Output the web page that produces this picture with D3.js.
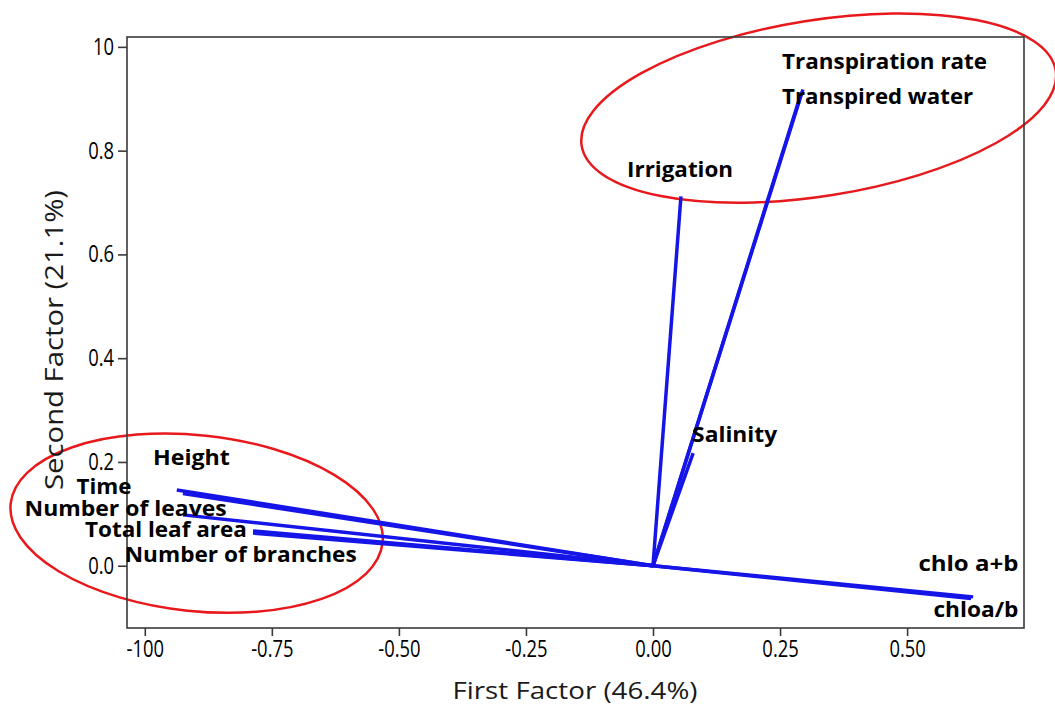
<!DOCTYPE html>
<html><head><meta charset="utf-8">
<script src="https://cdn.jsdelivr.net/npm/d3@7"></script>
<style>body{margin:0;background:#fff}svg{display:block}</style>
</head><body><svg id="c" width="1055" height="704"></svg>
<script>
// ---- data ----
const xTickValues = [-1, -0.75, -0.5, -0.25, 0, 0.25, 0.5];
const xTickLabels = ["-100", "-0.75", "-0.50", "-0.25", "0.00", "0.25", "0.50"];
const yTickValues = [0, 0.2, 0.4, 0.6, 0.8, 1.0];
const yTickLabels = ["0.0", "0.2", "0.4", "0.6", "0.8", "10"];
const variables = ["Transpiration rate", "Transpired water", "Irrigation", "Salinity", "chlo a+b", "chloa/b",
  "Height", "Time", "Number of leaves", "Total leaf area", "Number of branches"];
const firstFactor  = [0.295, 0.292, 0.055, 0.079, 0.630, 0.626, -0.937, -0.925, -0.925, -0.787, -0.787];
const secondFactor = [0.918, 0.912, 0.712, 0.217, -0.060, -0.063, 0.146, 0.139, 0.098, 0.067, 0.063];
const xTitle = "First Factor (46.4%)";
const yTitle = "Second Factor (21.1%)";

// ---- layout (label anchors in data units, widths in px) ----
const labelLayout = [
  {x: 0.254, y: 0.974, anchor: "start", w: 205},
  {x: 0.254, y: 0.907, anchor: "start", w: 191},
  {x: -0.051, y: 0.766, anchor: "start", w: 106},
  {x: 0.077, y: 0.256, anchor: "start", w: 85},
  {x: 0.719, y: 0.007, anchor: "end", w: 100},
  {x: 0.719, y: -0.081, anchor: "end", w: 85},
  {x: -0.984, y: 0.211, anchor: "start", w: 77},
  {x: -1.026, y: 0.156, anchor: "end", w: 55},
  {x: -0.839, y: 0.113, anchor: "end", w: 202},
  {x: -0.799, y: 0.073, anchor: "end", w: 162},
  {x: -0.583, y: 0.024, anchor: "end", w: 232}
];
const ellipses = [
  {cx: 0.326, cy: 0.882, rx: 240, ry: 88, rot: -9},
  {cx: -0.898, cy: 0.082, rx: 187, ry: 88, rot: 6}
];

const svg = d3.select("#c");
const L = 127, R = 1024, T = 37, B = 628;
const x = d3.scaleLinear().domain([-1.035, 0.730]).range([L, R]);
const y = d3.scaleLinear().domain([-0.120, 1.019]).range([B, T]);
const FONT = "'Open Sans', 'Noto Sans', sans-serif";

// ellipses (behind)
svg.append("g").selectAll("ellipse").data(ellipses).join("ellipse")
  .attr("transform", d => `translate(${x(d.cx)},${y(d.cy)}) rotate(${d.rot})`)
  .attr("rx", d => d.rx).attr("ry", d => d.ry)
  .attr("fill", "none").attr("stroke", "#e8191c").attr("stroke-width", 2.5);

// frame
svg.append("rect").attr("x", L).attr("y", T).attr("width", R - L).attr("height", B - T)
  .attr("fill", "none").attr("stroke", "#3a3a3a").attr("stroke-width", 1.6);

// axes
const xAxis = d3.axisBottom(x).tickValues(xTickValues).tickSize(8).tickPadding(3)
  .tickFormat((d, i) => xTickLabels[i]);
const gx = svg.append("g").attr("transform", `translate(0,${B})`).call(xAxis);
const yAxis = d3.axisLeft(y).tickValues(yTickValues).tickSize(9).tickPadding(4)
  .tickFormat((d, i) => yTickLabels[i]);
const gy = svg.append("g").attr("transform", `translate(${L},0)`).call(yAxis);
[gx, gy].forEach(g => {
  g.select(".domain").remove();
  g.selectAll(".tick line").attr("stroke", "#3a3a3a").attr("stroke-width", 1.6);
  g.selectAll(".tick text").attr("fill", "#000").style("font-family", FONT)
    .style("font-size", "23px").style("font-weight", 500);
});
gx.selectAll(".tick text").attr("dy", "0.8em");
[gx, gy].forEach(g => g.selectAll(".tick text").each(function () {
  const len = this.getComputedTextLength();
  d3.select(this).attr("textLength", len * 0.8).attr("lengthAdjust", "spacingAndGlyphs");
}));

// vectors
const pts = variables.map((v, i) => ({name: v, f1: firstFactor[i], f2: secondFactor[i], lab: labelLayout[i]}));
svg.append("g").selectAll("line").data(pts).join("line")
  .attr("x1", x(0)).attr("y1", y(0))
  .attr("x2", d => x(d.f1)).attr("y2", d => y(d.f2))
  .attr("stroke", "#1515e8").attr("stroke-width", 3.5).attr("stroke-linecap", "butt");

// labels
svg.append("g").selectAll("text").data(pts).join("text")
  .attr("x", d => x(d.lab.x)).attr("y", d => y(d.lab.y))
  .attr("text-anchor", d => d.lab.anchor).attr("dominant-baseline", "central")
  .attr("textLength", d => d.lab.w).attr("lengthAdjust", "spacingAndGlyphs")
  .style("font-family", FONT).style("font-weight", 700).style("font-size", "22px")
  .attr("fill", "#000").text(d => d.name);

// axis titles
svg.append("text").attr("x", 575).attr("y", 689).attr("text-anchor", "middle")
  .attr("dominant-baseline", "central").attr("textLength", 245).attr("lengthAdjust", "spacingAndGlyphs")
  .style("font-family", FONT).style("font-size", "24px").attr("fill", "#1a1a1a").text(xTitle);
svg.append("text").attr("transform", "translate(53,340) rotate(-90)").attr("text-anchor", "middle")
  .attr("dominant-baseline", "central").attr("textLength", 300).attr("lengthAdjust", "spacingAndGlyphs")
  .style("font-family", FONT).style("font-size", "25px").attr("fill", "#1a1a1a").text(yTitle);
</script></body></html>
